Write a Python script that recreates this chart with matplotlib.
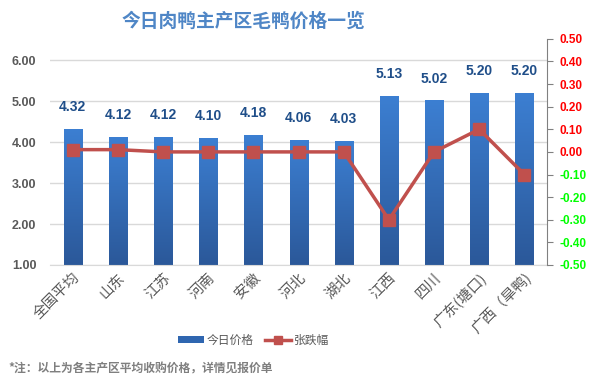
import numpy as np
import matplotlib
matplotlib.use('Agg')
import matplotlib.pyplot as plt
from matplotlib.lines import Line2D
from matplotlib.patches import Patch

plt.rcParams['font.family'] = ['Noto Sans CJK SC', 'DejaVu Sans']

# data
regions = ['全国平均', '山东', '江苏', '河南', '安徽', '河北', '湖北', '江西', '四川', '广东(塘口)', '广西（旱鸭)']
prices = [4.32, 4.12, 4.12, 4.10, 4.18, 4.06, 4.03, 5.13, 5.02, 5.20, 5.20]
changes = [0.01, 0.01, 0.00, 0.00, 0.00, 0.00, 0.00, -0.30, 0.00, 0.10, -0.10]
left_ticks = [1.00, 2.00, 3.00, 4.00, 5.00, 6.00]
right_ticks = [-0.5, -0.4, -0.3, -0.2, -0.1, 0.0, 0.1, 0.2, 0.3, 0.4, 0.5]

num_font = 'Liberation Sans'

fig = plt.figure(figsize=(5.9, 3.92), dpi=100)
ax1 = fig.add_axes([0.085, 0.324, 0.842, 0.577])
x = np.arange(len(regions))

# bars with a vertical gradient
bar_w = 0.4
bars = ax1.bar(x, prices, width=bar_w, bottom=0, color='none', zorder=2)
grad = np.linspace(0, 1, 256).reshape(-1, 1)
cmap = matplotlib.colors.LinearSegmentedColormap.from_list('bl', ['#2B5899', '#3C7FD2'])
for b, p in zip(bars, prices):
    im = ax1.imshow(grad, extent=[b.get_x(), b.get_x() + bar_w, 1.0, p], origin='lower',
                    cmap=cmap, aspect='auto', zorder=2)
    im.set_clip_path(b)
    ax1.text(b.get_x() + bar_w / 2, p + 0.36, f'{p:.2f}', ha='center', va='bottom',
             color='#1F4E89', fontsize=10, fontweight='bold', family=num_font)

ax1.set_xlim(-0.5, len(regions) - 0.5)
ax1.set_ylim(1.0, 6.52)
ax1.set_yticks(left_ticks)
ax1.set_yticklabels([f'{t:.2f}' for t in left_ticks], color='#595959', fontsize=9,
                    fontweight='bold', family=num_font)
ax1.grid(axis='y', color='#D9D9D9', linewidth=1, zorder=0)
ax1.set_axisbelow(True)
for s in ['top', 'right', 'left']:
    ax1.spines[s].set_visible(False)
ax1.spines['bottom'].set_color('#D9D9D9')
ax1.tick_params(axis='y', length=0, pad=10)
ax1.tick_params(axis='x', length=0, pad=4)
ax1.set_xticks(x)
ax1.set_xticklabels(regions, rotation=45, ha='right', rotation_mode='anchor',
                    color='#595959', fontsize=10.5)

# change line on the right axis
ax2 = ax1.twinx()
ax2.plot(x, changes, color='#C0504D', linewidth=2.5, marker='s', markersize=8, zorder=3)
ax2.set_ylim(-0.5, 0.5)
ax2.set_yticks(right_ticks)
ax2.set_yticklabels([f'{t:.2f}' for t in right_ticks], fontsize=8.5, family=num_font,
                    fontweight='bold')
for t, lab in zip(right_ticks, ax2.get_yticklabels()):
    lab.set_color('#FF0000' if t >= 0 else '#00FF00')
for s in ['top', 'left', 'bottom']:
    ax2.spines[s].set_visible(False)
ax2.spines['right'].set_color('#808080')
ax2.tick_params(axis='y', color='#808080', length=4, pad=5)

fig.text(0.412, 0.945, '今日肉鸭主产区毛鸭价格一览', ha='center', va='center',
         color='#4F86C6', fontsize=13.5, fontweight='bold')

handles = [Patch(facecolor='#2F66B0', edgecolor='none'),
           Line2D([0], [0], color='#C0504D', linewidth=2.5, marker='s', markersize=6)]
fig.legend(handles, ['今日价格', '张跌幅'], loc='center', bbox_to_anchor=(0.43, 0.132),
           ncol=2, frameon=False, fontsize=8.5, handlelength=2.2, handleheight=0.6,
           columnspacing=1.0, handletextpad=0.2, labelcolor='#595959')

fig.text(0.015, 0.058, '*注：以上为各主产区平均收购价格，详情见报价单', ha='left', va='center',
         color='#7F7F7F', fontsize=8.5, fontweight='bold')

plt.savefig('out.png', dpi=100)
